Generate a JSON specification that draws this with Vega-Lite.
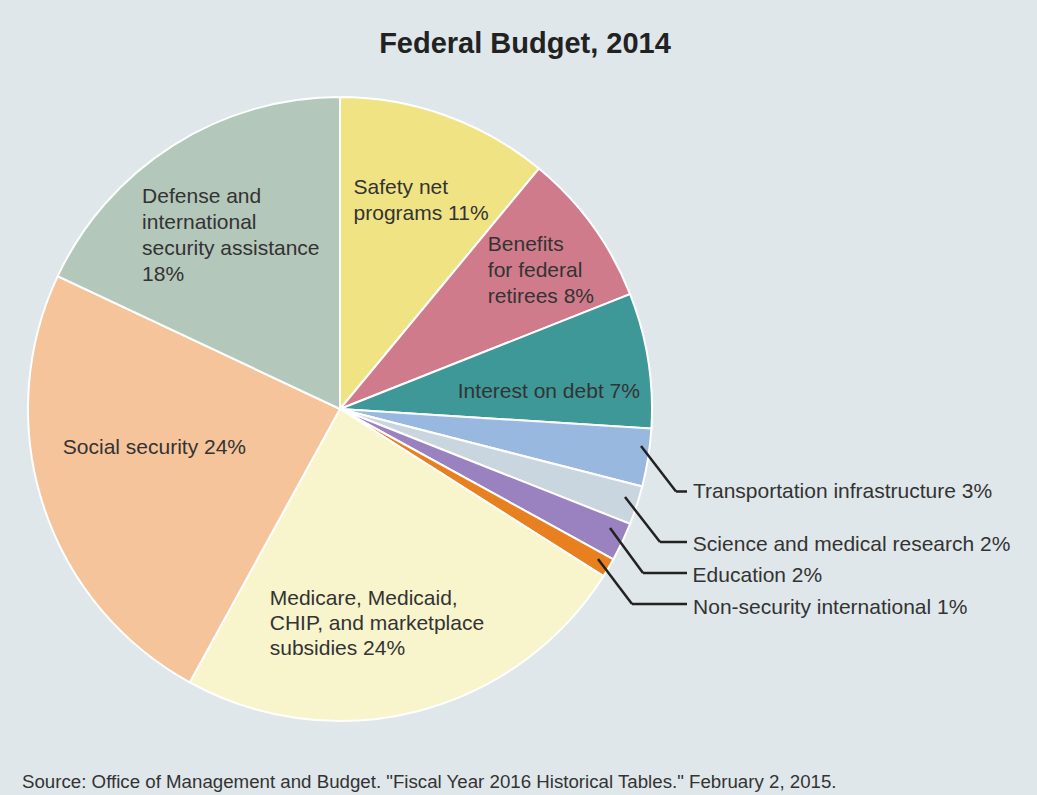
{
  "$schema": "https://vega.github.io/schema/vega-lite/v6.json",
  "background": "#dfe7ea",
  "padding": {"left": 22, "top": 30, "right": 30, "bottom": 10},
  "title": {
    "text": "Source: Office of Management and Budget. \"Fiscal Year 2016 Historical Tables.\" February 2, 2015.",
    "orient": "bottom", "anchor": "start", "dx": -2, "offset": 15,
    "font": "Liberation Sans", "fontSize": 18.7, "fontWeight": "normal", "color": "#333333", "baseline": "alphabetic"
  },
  "config": {"view": {"stroke": null}, "font": "Liberation Sans"},
  "vconcat": [
    {
      "width": 624,
      "height": 624,
      "title": {
        "text": "Federal Budget, 2014", "anchor": "middle", "dx": 185, "offset": 11,
        "font": "Liberation Sans", "fontSize": 29, "fontWeight": "bold", "color": "#222222", "baseline": "alphabetic"
      },
      "data": {
        "values": [
          {"rank": 1, "category": "Safety net programs", "pct": 11, "label": "Safety net\nprograms 11%"},
          {"rank": 2, "category": "Benefits for federal retirees", "pct": 8, "label": "Benefits\nfor federal\nretirees 8%"},
          {"rank": 3, "category": "Interest on debt", "pct": 7, "label": "Interest on debt 7%"},
          {"rank": 4, "category": "Transportation infrastructure", "pct": 3, "label": "Transportation infrastructure 3%"},
          {"rank": 5, "category": "Science and medical research", "pct": 2, "label": "Science and medical research 2%"},
          {"rank": 6, "category": "Education", "pct": 2, "label": "Education 2%"},
          {"rank": 7, "category": "Non-security international", "pct": 1, "label": "Non-security international 1%"},
          {"rank": 8, "category": "Medicare, Medicaid, CHIP, and marketplace subsidies", "pct": 24, "label": "Medicare, Medicaid,\nCHIP, and marketplace\nsubsidies 24%"},
          {"rank": 9, "category": "Social security", "pct": 24, "label": "Social security 24%"},
          {"rank": 10, "category": "Defense and international security assistance", "pct": 18, "label": "Defense and\ninternational\nsecurity assistance\n18%"}
        ]
      },
      "layer": [
        {
          "mark": {"type": "arc", "stroke": "#ffffff", "strokeWidth": 2},
          "encoding": {
            "theta": {"field": "pct", "type": "quantitative", "stack": true},
            "order": {"field": "rank", "type": "quantitative"},
            "color": {
              "field": "category", "type": "nominal", "legend": null,
              "scale": {
                "domain": ["Safety net programs", "Benefits for federal retirees", "Interest on debt", "Transportation infrastructure", "Science and medical research", "Education", "Non-security international", "Medicare, Medicaid, CHIP, and marketplace subsidies", "Social security", "Defense and international security assistance"],
                "range": ["#f0e384", "#d07b8b", "#3e9898", "#98b8e0", "#c9d5df", "#9a82c0", "#e8801f", "#f8f4cc", "#f6c49a", "#b3c7ba"]
              }
            }
          }
        },
        {
          "mark": {"type": "text", "radius": 229, "dx": -64, "dy": 0, "align": "left", "baseline": "alphabetic", "fontSize": 21, "lineHeight": 26.5, "lineBreak": "\n", "color": "#333333"},
          "encoding": {
            "theta": {"field": "pct", "type": "quantitative", "stack": true},
            "order": {"field": "rank", "type": "quantitative"},
            "text": {"condition": {"test": "datum.rank === 1", "field": "label"}, "value": ""}
          }
        },
        {
          "mark": {"type": "text", "radius": 200, "dx": -14, "dy": -40, "align": "left", "baseline": "alphabetic", "fontSize": 21, "lineHeight": 26, "lineBreak": "\n", "color": "#333333"},
          "encoding": {
            "theta": {"field": "pct", "type": "quantitative", "stack": true},
            "order": {"field": "rank", "type": "quantitative"},
            "text": {"condition": {"test": "datum.rank === 2", "field": "label"}, "value": ""}
          }
        },
        {
          "mark": {"type": "text", "radius": 180, "dx": -60, "dy": 17.5, "align": "left", "baseline": "alphabetic", "fontSize": 21, "lineHeight": 26, "lineBreak": "\n", "color": "#333333"},
          "encoding": {
            "theta": {"field": "pct", "type": "quantitative", "stack": true},
            "order": {"field": "rank", "type": "quantitative"},
            "text": {"condition": {"test": "datum.rank === 3", "field": "label"}, "value": ""}
          }
        },
        {
          "mark": {"type": "text", "radius": 330, "dx": 27, "dy": 37, "align": "left", "baseline": "alphabetic", "fontSize": 21, "lineHeight": 26, "lineBreak": "\n", "color": "#333333"},
          "encoding": {
            "theta": {"field": "pct", "type": "quantitative", "stack": true},
            "order": {"field": "rank", "type": "quantitative"},
            "text": {"condition": {"test": "datum.rank === 4", "field": "label"}, "value": ""}
          }
        },
        {
          "mark": {"type": "text", "radius": 330, "dx": 39, "dy": 40, "align": "left", "baseline": "alphabetic", "fontSize": 21, "lineHeight": 26, "lineBreak": "\n", "color": "#333333"},
          "encoding": {
            "theta": {"field": "pct", "type": "quantitative", "stack": true},
            "order": {"field": "rank", "type": "quantitative"},
            "text": {"condition": {"test": "datum.rank === 5", "field": "label"}, "value": ""}
          }
        },
        {
          "mark": {"type": "text", "radius": 330, "dx": 54, "dy": 32.5, "align": "left", "baseline": "alphabetic", "fontSize": 21, "lineHeight": 26, "lineBreak": "\n", "color": "#333333"},
          "encoding": {
            "theta": {"field": "pct", "type": "quantitative", "stack": true},
            "order": {"field": "rank", "type": "quantitative"},
            "text": {"condition": {"test": "datum.rank === 6", "field": "label"}, "value": ""}
          }
        },
        {
          "mark": {"type": "text", "radius": 330, "dx": 69, "dy": 36.7, "align": "left", "baseline": "alphabetic", "fontSize": 21, "lineHeight": 26, "lineBreak": "\n", "color": "#333333"},
          "encoding": {
            "theta": {"field": "pct", "type": "quantitative", "stack": true},
            "order": {"field": "rank", "type": "quantitative"},
            "text": {"condition": {"test": "datum.rank === 7", "field": "label"}, "value": ""}
          }
        },
        {
          "mark": {"type": "text", "radius": 200, "dx": -120, "dy": 2.5, "align": "left", "baseline": "alphabetic", "fontSize": 21, "lineHeight": 25, "lineBreak": "\n", "color": "#333333"},
          "encoding": {
            "theta": {"field": "pct", "type": "quantitative", "stack": true},
            "order": {"field": "rank", "type": "quantitative"},
            "text": {"condition": {"test": "datum.rank === 8", "field": "label"}, "value": ""}
          }
        },
        {
          "mark": {"type": "text", "radius": 200, "dx": -87, "dy": -17, "align": "left", "baseline": "alphabetic", "fontSize": 21, "lineHeight": 26, "lineBreak": "\n", "color": "#333333"},
          "encoding": {
            "theta": {"field": "pct", "type": "quantitative", "stack": true},
            "order": {"field": "rank", "type": "quantitative"},
            "text": {"condition": {"test": "datum.rank === 9", "field": "label"}, "value": ""}
          }
        },
        {
          "mark": {"type": "text", "radius": 220, "dx": -80, "dy": -20.5, "align": "left", "baseline": "alphabetic", "fontSize": 21, "lineHeight": 26, "lineBreak": "\n", "color": "#333333"},
          "encoding": {
            "theta": {"field": "pct", "type": "quantitative", "stack": true},
            "order": {"field": "rank", "type": "quantitative"},
            "text": {"condition": {"test": "datum.rank === 10", "field": "label"}, "value": ""}
          }
        },
        {"data": {"values": [{}]}, "mark": {"type": "rule", "color": "#222222", "strokeWidth": 2.5}, "encoding": {"x": {"value": 613}, "y": {"value": 349}, "x2": {"value": 648}, "y2": {"value": 394.5}}},
        {"data": {"values": [{}]}, "mark": {"type": "rule", "color": "#222222", "strokeWidth": 2.5}, "encoding": {"x": {"value": 648}, "y": {"value": 394.5}, "x2": {"value": 659}, "y2": {"value": 394.5}}},
        {"data": {"values": [{}]}, "mark": {"type": "rule", "color": "#222222", "strokeWidth": 2.5}, "encoding": {"x": {"value": 597}, "y": {"value": 400}, "x2": {"value": 632}, "y2": {"value": 445}}},
        {"data": {"values": [{}]}, "mark": {"type": "rule", "color": "#222222", "strokeWidth": 2.5}, "encoding": {"x": {"value": 632}, "y": {"value": 445}, "x2": {"value": 659}, "y2": {"value": 445}}},
        {"data": {"values": [{}]}, "mark": {"type": "rule", "color": "#222222", "strokeWidth": 2.5}, "encoding": {"x": {"value": 582}, "y": {"value": 431}, "x2": {"value": 615}, "y2": {"value": 476}}},
        {"data": {"values": [{}]}, "mark": {"type": "rule", "color": "#222222", "strokeWidth": 2.5}, "encoding": {"x": {"value": 615}, "y": {"value": 476}, "x2": {"value": 659}, "y2": {"value": 476}}},
        {"data": {"values": [{}]}, "mark": {"type": "rule", "color": "#222222", "strokeWidth": 2.5}, "encoding": {"x": {"value": 570}, "y": {"value": 462}, "x2": {"value": 604}, "y2": {"value": 507}}},
        {"data": {"values": [{}]}, "mark": {"type": "rule", "color": "#222222", "strokeWidth": 2.5}, "encoding": {"x": {"value": 604}, "y": {"value": 507}, "x2": {"value": 659}, "y2": {"value": 507}}}
      ]
    }
  ]
}
